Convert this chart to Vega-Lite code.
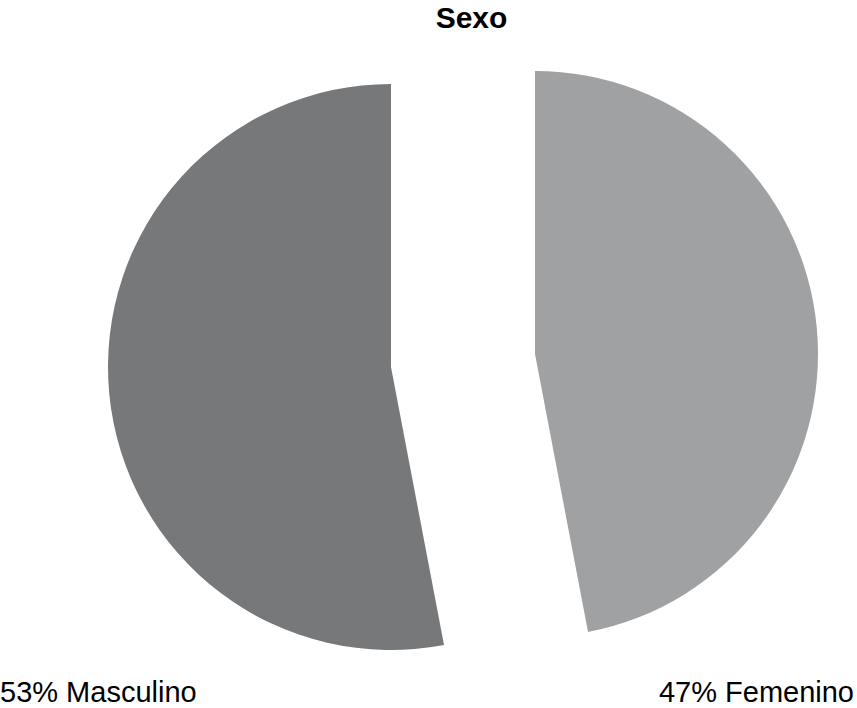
{
  "$schema": "https://vega.github.io/schema/vega-lite/v6.json",
  "width": 857,
  "height": 668,
  "padding": {"left": 0, "right": 0, "top": 40, "bottom": 0},
  "autosize": {"type": "none"},
  "background": "white",
  "config": {"view": {"stroke": null}},
  "title": {
    "text": "Sexo",
    "font": "Liberation Sans",
    "fontSize": 30,
    "fontWeight": "bold",
    "color": "black",
    "anchor": "middle",
    "dx": 43,
    "offset": 6
  },
  "data": {
    "values": [
      {"sexo": "Masculino", "porcentaje": 53},
      {"sexo": "Femenino", "porcentaje": 47}
    ]
  },
  "transform": [
    {"stack": "porcentaje", "groupby": [], "as": ["p0", "p1"], "sort": [{"field": "sexo", "order": "ascending"}]},
    {"calculate": "datum.porcentaje + '% ' + datum.sexo", "as": "etiqueta"}
  ],
  "layer": [
    {
      "transform": [{"filter": "datum.sexo === 'Femenino'"}],
      "mark": {"type": "arc", "x": 535, "y": 314, "outerRadius": 283},
      "encoding": {
        "theta": {"field": "p0", "type": "quantitative", "scale": {"domain": [0, 100], "range": [0, 6.283185307]}},
        "theta2": {"field": "p1"},
        "color": {"field": "sexo", "type": "nominal", "scale": {"domain": ["Masculino", "Femenino"], "range": ["#77787a", "#a0a1a3"]}, "legend": null}
      }
    },
    {
      "transform": [{"filter": "datum.sexo === 'Masculino'"}],
      "mark": {"type": "arc", "x": 391, "y": 327, "outerRadius": 283},
      "encoding": {
        "theta": {"field": "p0", "type": "quantitative"},
        "theta2": {"field": "p1"},
        "color": {"field": "sexo", "type": "nominal", "legend": null}
      }
    },
    {
      "transform": [{"filter": "datum.sexo === 'Masculino'"}],
      "mark": {"type": "text", "x": 0, "y": 662, "align": "left", "baseline": "alphabetic", "font": "Liberation Sans", "fontSize": 29, "color": "black"},
      "encoding": {"text": {"field": "etiqueta", "type": "nominal"}}
    },
    {
      "transform": [{"filter": "datum.sexo === 'Femenino'"}],
      "mark": {"type": "text", "x": 854, "y": 662, "align": "right", "baseline": "alphabetic", "font": "Liberation Sans", "fontSize": 29, "color": "black"},
      "encoding": {"text": {"field": "etiqueta", "type": "nominal"}}
    }
  ]
}
